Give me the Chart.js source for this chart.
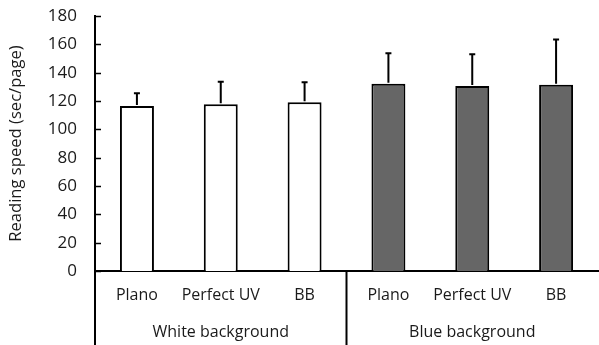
<!DOCTYPE html>
<html>
<head>
<meta charset="utf-8">
<script src="https://cdn.jsdelivr.net/npm/chart.js@4/dist/chart.umd.min.js"></script>
<style>
    html, body { margin: 0; padding: 0; background: #fff; }
    #wrap { width: 599px; height: 345px; position: relative; }
</style>
</head>
<body>
<div id="wrap"><canvas id="speed-chart"></canvas></div>
<script>
// data
const categories = ['Plano', 'Perfect UV', 'BB', 'Plano', 'Perfect UV', 'BB'];
const groups = ['White background', 'Blue background'];
const groupOf = [0, 0, 0, 1, 1, 1];
const means = [116.5, 117.7, 119.1, 132.2, 130.6, 131.5];
const upperErr = [8.9, 15.9, 14.1, 21.5, 22.4, 32.0];
const yMin = 0;
const yMax = 180;
const yStep = 20;
const yTitle = 'Reading speed (sec/page)';

const fills = ['#ffffff', '#666666'];
const textColor = '#1a1a1a';

Chart.defaults.font.family = "'Open Sans', 'Noto Sans', sans-serif";
Chart.defaults.font.size = 16;
Chart.defaults.color = textColor;

// error bars, inward y ticks, group separators and group labels
const decor = {
    id: 'decor',
    afterDatasetsDraw(chart) {
        const ctx = chart.ctx;
        const y = chart.scales.y;
        const meta = chart.getDatasetMeta(0);
        ctx.save();
        ctx.strokeStyle = '#000';
        ctx.lineWidth = 2;
        meta.data.forEach((bar, i) => {
            const yBar = y.getPixelForValue(means[i]);
            const yTop = y.getPixelForValue(means[i] + upperErr[i]);
            ctx.beginPath();
            ctx.moveTo(bar.x, yBar - 1);
            ctx.lineTo(bar.x, yTop);
            ctx.moveTo(bar.x - 3, yTop);
            ctx.lineTo(bar.x + 3, yTop);
            ctx.stroke();
        });
        ctx.restore();
    },
    afterDraw(chart) {
        const ctx = chart.ctx;
        const area = chart.chartArea;
        const x = chart.scales.x;
        const y = chart.scales.y;
        ctx.save();
        ctx.strokeStyle = '#000';
        ctx.lineWidth = 1.5;

        // short ticks pointing into the plot
        y.ticks.forEach(t => {
            const py = Math.round(y.getPixelForValue(t.value)) + 0.5;
            ctx.beginPath();
            ctx.moveTo(area.left, py);
            ctx.lineTo(area.left + 6, py);
            ctx.stroke();
        });

        // y axis runs down through the label rows
        ctx.lineWidth = 2;
        ctx.beginPath();
        ctx.moveTo(area.left, area.bottom);
        ctx.lineTo(area.left, chart.height);
        ctx.stroke();

        const step = x.getPixelForValue(1) - x.getPixelForValue(0);
        groups.forEach((name, g) => {
            const idx = groupOf.map((v, i) => v === g ? i : -1).filter(i => i >= 0);
            const left = x.getPixelForValue(idx[0]) - step / 2;
            const right = x.getPixelForValue(idx[idx.length - 1]) + step / 2;
            if (g > 0) {
                ctx.beginPath();
                ctx.moveTo(left, area.bottom);
                ctx.lineTo(left, chart.height);
                ctx.stroke();
            }
            ctx.fillStyle = textColor;
            ctx.font = "16px 'Open Sans', 'Noto Sans', sans-serif";
            ctx.textAlign = 'center';
            ctx.textBaseline = 'middle';
            ctx.fillText(name, (left + right) / 2, area.bottom + 61);
        });
        ctx.restore();
    }
};

new Chart(document.getElementById('speed-chart'), {
    type: 'bar',
    data: {
        labels: categories,
        datasets: [{
            data: means,
            backgroundColor: groupOf.map(g => fills[g]),
            borderColor: '#000',
            borderWidth: 2,
            borderSkipped: 'bottom',
            categoryPercentage: 1,
            barPercentage: 0.405
        }]
    },
    options: {
        responsive: true,
        maintainAspectRatio: false,
        animation: false,
        layout: { padding: { top: 16, right: 1, left: 0, bottom: 0 } },
        plugins: {
            legend: { display: false },
            tooltip: { enabled: false }
        },
        scales: {
            x: {
                grid: { display: false, drawTicks: false },
                border: { display: true, color: '#000', width: 2 },
                ticks: { padding: 15, color: textColor, maxRotation: 0, autoSkip: false },
                afterFit: s => { s.height = 74; }
            },
            y: {
                min: yMin,
                max: yMax,
                grid: { display: false, drawTicks: false },
                border: { display: true, color: '#000', width: 2 },
                ticks: { stepSize: yStep, padding: 18, color: textColor, font: { size: 17 } },
                title: {
                    display: true,
                    text: yTitle,
                    color: textColor,
                    font: { size: 16.6 },
                    padding: { top: 6, bottom: 0 }
                },
                // pin the plot box so 0 and 180 land where the figure has them
                afterFit: s => { s.width = 95; s.paddingTop = 0; s.paddingBottom = 0; }
            }
        }
    },
    plugins: [decor]
});
</script>
</body>
</html>
